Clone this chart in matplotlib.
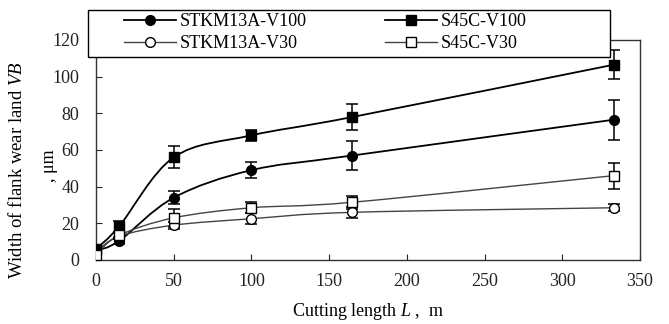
import matplotlib
matplotlib.use("Agg")
import matplotlib.pyplot as plt
import numpy as np
from matplotlib.path import Path
from matplotlib.patches import PathPatch, Rectangle
from matplotlib.lines import Line2D

plt.rcParams['font.family'] = ['Liberation Serif', 'Noto Sans CJK SC', 'DejaVu Serif']
plt.rcParams['mathtext.fontset'] = 'custom'
plt.rcParams['mathtext.rm'] = 'Liberation Serif'
plt.rcParams['mathtext.it'] = 'Liberation Serif:italic'

x = [0, 15, 50, 100, 165, 333]
stk_v100 = [5, 10.5, 34, 49, 57, 76.5]
stk_v100_err = [1, 2, 3.5, 4.5, 8, 11]
s45_v100 = [6, 18.5, 56, 68, 78, 106.5]
s45_v100_err = [1, 3, 6, 3, 7, 8]
stk_v30 = [4.5, 13, 19, 22.5, 26, 28.5]
stk_v30_err = [1, 1.5, 2, 3, 3, 2]
s45_v30 = [3, 13.5, 23, 28.5, 31.5, 46]
s45_v30_err = [1, 2, 5, 3, 3.5, 7]
labels = ['STKM13A-V100', 'STKM13A-V30', 'S45C-V100', 'S45C-V30']
xticks = [0, 50, 100, 150, 200, 250, 300, 350]
yticks = [0, 20, 40, 60, 80, 100, 120]

W, H = 669, 324
fig = plt.figure(figsize=(6.69, 3.24), dpi=100)
ax = fig.add_axes([96 / W, 1 - 260 / H, 544 / W, 220 / H])


def smooth_path(xs, ys):
    P = np.column_stack([xs, ys]).astype(float)
    n = len(P)
    verts = [P[0]]
    codes = [Path.MOVETO]
    for i in range(n - 1):
        pm = P[max(i - 1, 0)]
        p0 = P[i]
        p1 = P[i + 1]
        p2 = P[min(i + 2, n - 1)]
        c1 = p0 + (p1 - pm) / 6.0
        c2 = p1 - (p2 - p0) / 6.0
        verts += [c1, c2, p1]
        codes += [Path.CURVE4] * 3
    return Path(verts, codes)


series = [
    (stk_v100, stk_v100_err, 'o', 'black', 'black', 1.3),
    (stk_v30, stk_v30_err, 'o', 'white', '#444444', 1.0),
    (s45_v100, s45_v100_err, 's', 'black', 'black', 1.3),
    (s45_v30, s45_v30_err, 's', 'white', '#444444', 1.0),
]
handles = []
for (ys, es, m, fc, lc, lw), lab in zip(series, labels):
    ms = 7 if m == 'o' else 6.5
    ax.add_patch(PathPatch(smooth_path(x, ys), facecolor='none', edgecolor=lc, lw=lw, zorder=2))
    ax.errorbar(x, ys, yerr=es, fmt='none', ecolor='black', elinewidth=1.1, capsize=4, capthick=1.1, zorder=3)
    ax.plot(x, ys, linestyle='none', marker=m, markersize=ms,
            markerfacecolor=fc, markeredgecolor='black', markeredgewidth=1.0, zorder=4)
    handles.append(Line2D([], [], color=lc, lw=lw, marker=m, markersize=ms,
                          markerfacecolor=fc, markeredgecolor='black', markeredgewidth=1.0))

ax.set_xlim(0, 350)
ax.set_ylim(0, 120)
ax.set_xticks(xticks)
ax.set_yticks(yticks)
ax.tick_params(direction='in', length=4, width=0.8, labelsize=13, colors='#222222')
ax.tick_params(axis='x', pad=9)
ax.tick_params(axis='y', pad=12)
for s in ax.spines.values():
    s.set_linewidth(1.0)
    s.set_color('#333333')

frame = Rectangle((88 / W, 1 - 57 / H), 522 / W, 47 / H, transform=fig.transFigure,
                  facecolor='white', edgecolor='black', lw=1.0, zorder=9)
fig.add_artist(frame)
leg = fig.legend(handles, labels, ncol=2, loc='upper left',
                 bbox_to_anchor=(124 / W, 1 - 13 / H), bbox_transform=fig.transFigure,
                 fontsize=13, handlelength=2.9, handletextpad=0.2, columnspacing=4.3,
                 borderpad=0, borderaxespad=0, labelspacing=0.3, frameon=False)
leg.set_zorder(10)

fig.text(368 / W, 1 - 312 / H, 'Cutting length $L$ ,  m', ha='center', va='center', fontsize=13)
fig.text(17 / W, 1 - 170 / H, 'Width of flank wear land $VB$', rotation=90, ha='center', va='center', fontsize=13.5)
fig.text(50 / W, 1 - 166 / H, ', μm', rotation=90, ha='center', va='center', fontsize=13)

fig.savefig('out.png', dpi=100)
